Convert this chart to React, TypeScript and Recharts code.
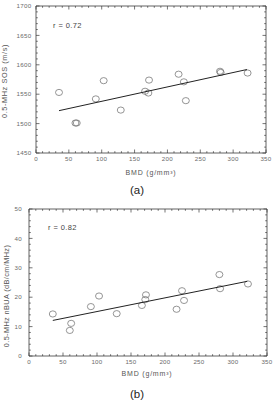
import React from "react";
import { ScatterChart, Scatter, XAxis, YAxis, ReferenceArea } from "recharts";

// BMD of the 15 samples (shared by both panels)
const bmd = [35, 60, 62, 91, 103, 129, 166, 171, 172, 217, 225, 228, 280, 281, 322];
// (a) 0.5-MHz SOS (m/s)
const sos = [1553, 1501, 1501, 1542, 1573, 1523, 1555, 1552, 1574, 1584, 1571, 1539, 1589, 1587, 1586];
// (b) 0.5-MHz nBUA (dB/cm/MHz)
const nbua = [14.3, 8.7, 11.1, 16.8, 20.4, 14.4, 17.2, 19.2, 20.8, 15.9, 22.2, 18.9, 27.7, 22.9, 24.5];

// regression line end points
const fitBmd = [35, 321];
const fitSos = [1522, 1592];
const fitNbua = [12.1, 25.4];

const xMajor = [0, 50, 100, 150, 200, 250, 300, 350];
const sosMajor = [1450, 1500, 1550, 1600, 1650, 1700];
const nbuaMajor = [0, 10, 20, 30, 40, 50];

const FONT = '"Liberation Sans", Arial, Helvetica, sans-serif';
const AXIS = "#3a3a3a";
const LABEL = "#6a6a6a";

// major ticks split into `parts` minor steps
function withMinor(major: number[], parts: number) {
  const out: number[] = [];
  for (let i = 0; i < major.length - 1; i++) {
    const step = (major[i + 1] - major[i]) / parts;
    for (let k = 0; k < parts; k++) out.push(major[i] + k * step);
  }
  out.push(major[major.length - 1]);
  return out;
}

const toPts = (xs: number[], ys: number[]) => xs.map((x, i) => ({ x, y: ys[i] }));

const XTick = ({ x, y, payload, majors, plotH }: any) => {
  const v = payload.value;
  const major = majors.includes(v);
  const len = major ? 3.5 : 1.8;
  return (
    <g>
      <line x1={x} x2={x} y1={y} y2={y - len} stroke={AXIS} strokeWidth={0.7} />
      <line x1={x} x2={x} y1={y - plotH} y2={y - plotH + len} stroke={AXIS} strokeWidth={0.7} />
      {major && (
        <text x={x} y={y + 8} textAnchor="middle" fontSize={6.2} letterSpacing={0.3} fill={LABEL} fontFamily={FONT}>
          {v}
        </text>
      )}
    </g>
  );
};

const YTick = ({ x, y, payload, majors, plotW, gap }: any) => {
  const v = payload.value;
  const major = majors.includes(v);
  const len = major ? 3.5 : 1.8;
  return (
    <g>
      <line x1={x} x2={x + len} y1={y} y2={y} stroke={AXIS} strokeWidth={0.7} />
      <line x1={x + plotW} x2={x + plotW - len} y1={y} y2={y} stroke={AXIS} strokeWidth={0.7} />
      {major && (
        <text x={x - gap} y={y + 2.2} textAnchor="end" fontSize={6.2} letterSpacing={0.3} fill={LABEL} fontFamily={FONT}>
          {v}
        </text>
      )}
    </g>
  );
};

const OpenCircle = ({ cx, cy }: any) => (
  <ellipse cx={cx} cy={cy} rx={3.5} ry={3.1} fill="none" stroke="#7a7a7a" strokeWidth={0.8} />
);

const abs = (left: number, top: number, extra: React.CSSProperties = {}): React.CSSProperties => ({
  position: "absolute",
  left,
  top,
  fontFamily: FONT,
  whiteSpace: "nowrap",
  lineHeight: 1,
  ...extra,
});

function Panel({
  top, height, margin, yWidth, plotW, plotH, ys, fitYs, yMajor, yParts, yGap,
}: any) {
  const xTicks = withMinor(xMajor, 5);
  const yTicks = withMinor(yMajor, yParts);
  return (
    <div style={{ position: "absolute", left: 0, top }}>
      <ScatterChart width={273} height={height} margin={margin}>
        <XAxis
          type="number" dataKey="x" domain={[0, 350]} ticks={xTicks} interval={0}
          height={20} axisLine={false} tickLine={false} tickSize={0} tickMargin={0}
          tick={(p: any) => <XTick {...p} majors={xMajor} plotH={plotH} />}
        />
        <YAxis
          type="number" dataKey="y" domain={[yMajor[0], yMajor[yMajor.length - 1]]} ticks={yTicks} interval={0}
          width={yWidth} axisLine={false} tickLine={false} tickSize={0} tickMargin={0}
          tick={(p: any) => <YTick {...p} majors={yMajor} plotW={plotW} gap={yGap} />}
        />
        <ReferenceArea
          x1={0} x2={350} y1={yMajor[0]} y2={yMajor[yMajor.length - 1]}
          fill="none" fillOpacity={0} stroke={AXIS} strokeWidth={0.8}
        />
        <Scatter data={toPts(bmd, ys)} shape={OpenCircle} isAnimationActive={false} />
        <Scatter
          data={toPts(fitBmd, fitYs)} line={{ stroke: "#222", strokeWidth: 1 }}
          shape={() => <g />} isAnimationActive={false}
        />
      </ScatterChart>
    </div>
  );
}

export default function App() {
  return (
    <div style={{ position: "absolute", left: 0, top: 0, width: 273, height: 406, background: "#fff", overflow: "hidden" }}>
      <Panel
        top={0} height={200} margin={{ top: 6, right: 7, bottom: 27, left: 0 }}
        yWidth={36} plotW={230} plotH={147} ys={sos} fitYs={fitSos}
        yMajor={sosMajor} yParts={5} yGap={4.5}
      />
      <Panel
        top={200} height={206} margin={{ top: 9, right: 6, bottom: 30, left: 0 }}
        yWidth={29} plotW={238} plotH={147} ys={nbua} fitYs={fitNbua}
        yMajor={nbuaMajor} yParts={5} yGap={7}
      />

      {/* panel (a) texts */}
      <div style={abs(53, 21.5, { fontSize: 7.5, color: "#444", letterSpacing: 0.4 })}>r = 0.72</div>
      <div style={abs(151, 172, { fontSize: 7, color: "#555", letterSpacing: 0.8, transform: "translate(-50%,-50%)" })}>
        BMD (g/mm³)
      </div>
      <div style={abs(4.5, 81, { fontSize: 7.3, color: "#555", letterSpacing: 0.6, transform: "translate(-50%,-50%) rotate(-90deg)" })}>
        0.5-MHz SOS (m/s)
      </div>
      <div style={abs(137, 191, { fontSize: 11.5, color: "#222", transform: "translate(-50%,-50%)" })}>(a)</div>

      {/* panel (b) texts */}
      <div style={abs(48, 224, { fontSize: 7.5, color: "#444", letterSpacing: 0.4 })}>r = 0.82</div>
      <div style={abs(147, 373, { fontSize: 7, color: "#555", letterSpacing: 0.8, transform: "translate(-50%,-50%)" })}>
        BMD (g/mm³)
      </div>
      <div style={abs(6.5, 296, { fontSize: 7.3, color: "#555", letterSpacing: 0.4, transform: "translate(-50%,-50%) rotate(-90deg)" })}>
        0.5-MHz nBUA (dB/cm/MHz)
      </div>
      <div style={abs(137, 394.5, { fontSize: 11.5, color: "#222", transform: "translate(-50%,-50%)" })}>(b)</div>
    </div>
  );
}
